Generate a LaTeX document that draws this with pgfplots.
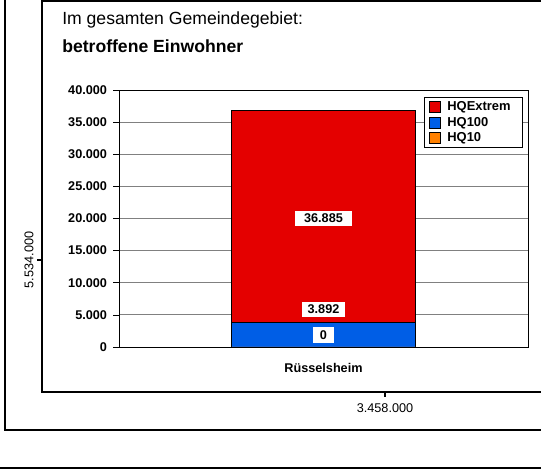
\documentclass[border=0pt]{standalone}
\usepackage{fontspec}
\setmainfont{Liberation Sans}
\usepackage{pgfplots}
\pgfplotsset{compat=1.18}
\definecolor{hqExtrem}{RGB}{228,0,0}
\definecolor{hqHundred}{RGB}{0,94,230}
\definecolor{hqTen}{RGB}{255,128,0}
\definecolor{gridGray}{RGB}{128,128,128}
\newcommand{\fs}[1]{\fontsize{#1}{#1}\selectfont}
\begin{document}
\begin{tikzpicture}[x=0.75pt,y=0.75pt]
\useasboundingbox (0,0) rectangle (541,473);
% map frames (pixel coords, y up)
\draw[line width=1.6pt] (5,473) -- (5,43) -- (541,43);
\draw[line width=1.6pt] (541,472) -- (42,472) -- (42,81) -- (541,81);
\draw[line width=2pt] (0,5) -- (541,5);
\draw[line width=1.2pt] (42,213) -- (37,213);
\draw[line width=1.2pt] (385,81) -- (385,76);
\node[rotate=90,font=\fs{9.5}] at (29,213) {5.534.000};
\node[font=\fs{9.5}] at (385,65) {3.458.000};
% titles
\node[anchor=base west,inner sep=0pt,font=\fs{13.2}] at (62,448) {Im gesamten Gemeindegebiet:};
\node[anchor=base west,inner sep=0pt,font=\bfseries\fs{13.2}] at (62,420) {betroffene Einwohner};
\begin{axis}[
    at={(89.25pt,94.5pt)},
    anchor=south west,
    scale only axis,
    width=306.75pt,
    height=192.75pt,
    xmin=-0.5, xmax=0.5,
    ymin=0, ymax=40000,
    ytick={0,5000,...,40000},
    xtick={0},
    xticklabels={Rüsselsheim},
    major x tick style={draw=none},
    ymajorgrids,
    grid style={gridGray,line width=0.6pt},
    tick align=outside,
    ytick pos=left,
    major tick length=4.5pt,
    tick style={black,line width=0.5pt},
    axis line style={line width=0.6pt},
    scaled y ticks=false,
    /pgf/number format/.cd, fixed, 1000 sep={.}, assume math mode=true,
    /pgfplots/.cd,
    ticklabel style={font=\bfseries\fs{9.5}},
    yticklabel style={xshift=-1pt},
    xticklabel style={yshift=-4pt},
    ybar, bar shift=0pt, bar width=138pt,
    legend style={at={(0.988,0.973)}, anchor=north east, draw=black, line width=0.6pt,
        font=\bfseries\fs{9.7}, inner xsep=3.5pt, inner ysep=2.6pt, row sep=1.5pt,
        nodes={inner ysep=0.8pt, inner xsep=2pt}},
    legend cell align=left,
    legend image code/.code={
        \draw[#1,draw=black,line width=0.5pt] (0pt,-4pt) rectangle (8.25pt,4.25pt);
        \path[draw=none,fill=none] (0pt,0pt) -- (11.5pt,0pt);},
    ]
\addplot[fill=hqExtrem, draw=black, line width=0.6pt] coordinates {(0,36885)};
\addplot[fill=hqHundred, draw=black, line width=0.6pt] coordinates {(0,3892)};
\addplot[fill=hqTen, draw=hqTen!80!black, line width=0.6pt] coordinates {(0,0)};
\legend{\makebox[51pt][l]{HQExtrem},HQ100,HQ10}
\node[fill=white,inner xsep=7pt,inner ysep=2.5pt,font=\bfseries\fs{9.5}] at (axis cs:0,20000) {36.885};
\node[fill=white,inner xsep=4pt,inner ysep=2.5pt,font=\bfseries\fs{9.5}] at (axis cs:0,5837) {3.892};
\node[fill=white,inner xsep=5.5pt,inner ysep=2.5pt,font=\bfseries\fs{9.5}] at (axis cs:0,1868) {0};
\end{axis}
\end{tikzpicture}
\end{document}
